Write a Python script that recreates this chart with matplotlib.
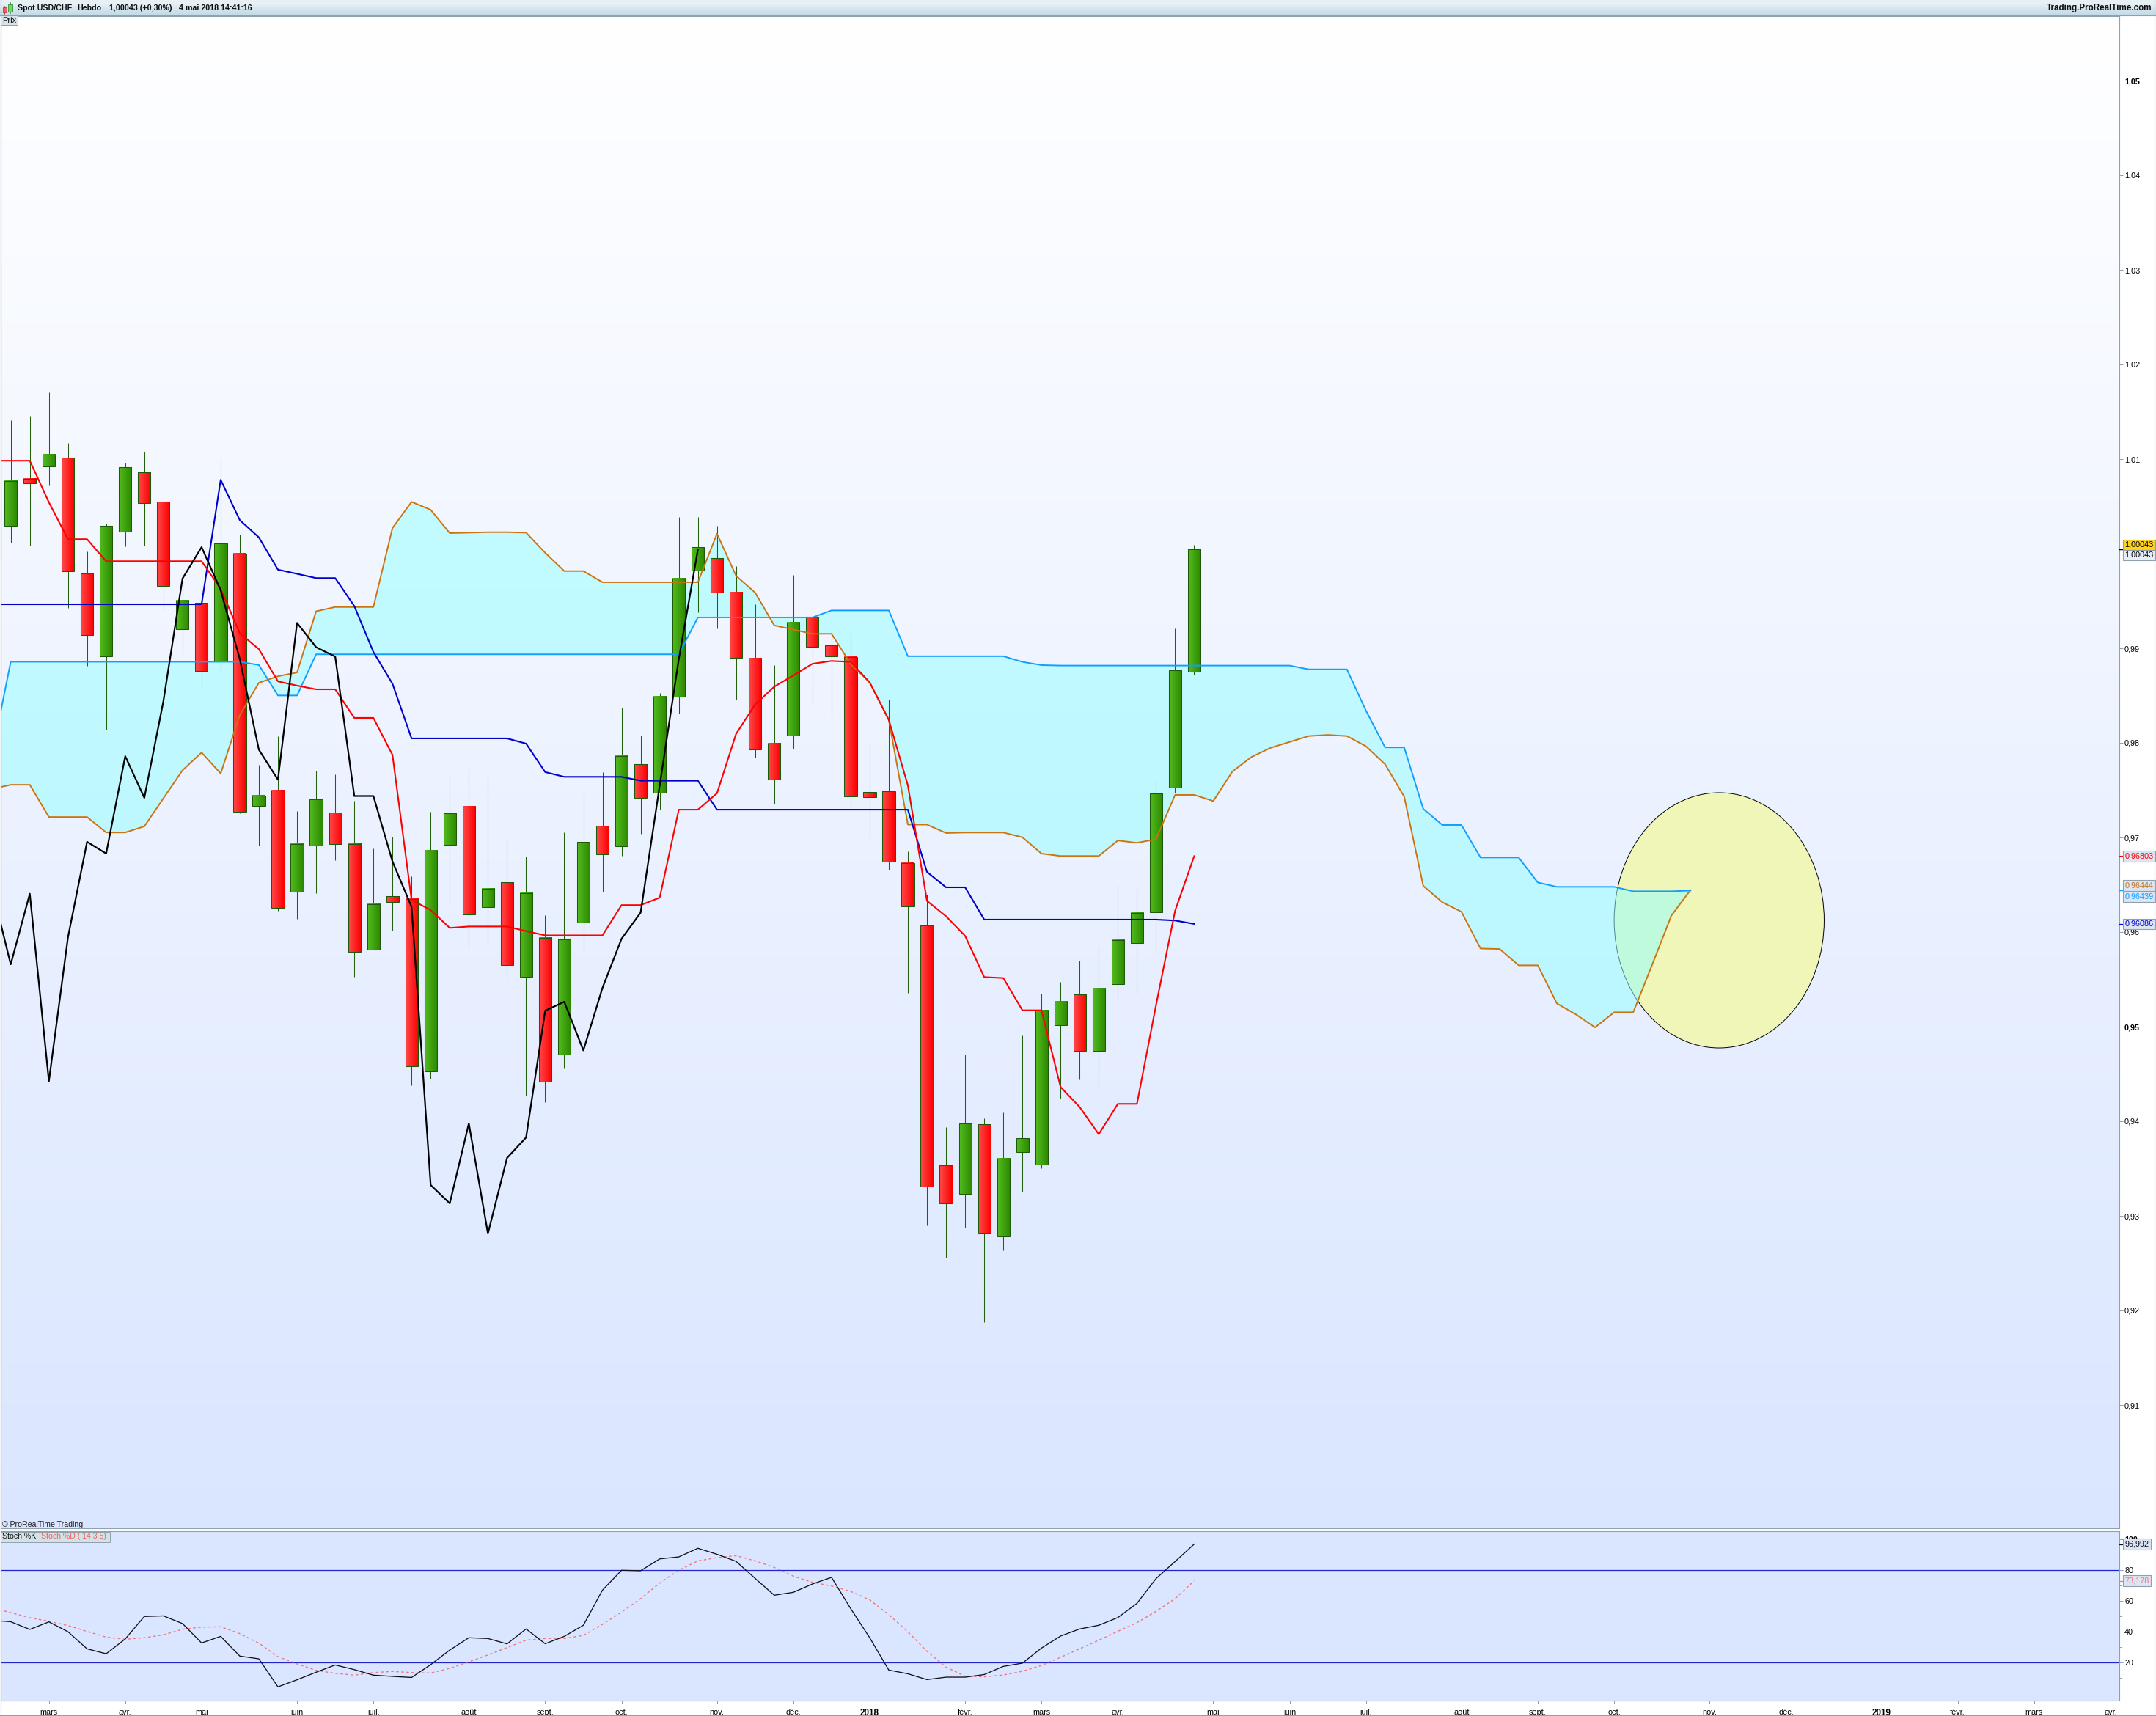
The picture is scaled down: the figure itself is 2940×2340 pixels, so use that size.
import matplotlib
matplotlib.use('Agg')
import matplotlib.pyplot as plt
from matplotlib.colors import LinearSegmentedColormap
from matplotlib.patches import Ellipse, Rectangle
from matplotlib.transforms import blended_transform_factory
import numpy as np

plt.rcParams['font.family'] = ['Liberation Sans', 'DejaVu Sans']

# weekly candles, index 0 is the first bar on the left
opens = [1.00291, 1.00790, 1.00919, 1.01013, 0.99787, 0.98912, 1.00232, 1.00860, 1.00548, 0.99198,
         0.99480, 0.98862, 0.99999, 0.97330, 0.97498, 0.96425, 0.96914, 0.97265, 0.96929, 0.95812,
         0.96380, 0.96351, 0.94526, 0.96919, 0.97325, 0.96262, 0.96529, 0.95525, 0.95940, 0.94709,
         0.96104, 0.97122, 0.96904, 0.97773, 0.97472, 0.98485, 0.99825, 0.99954, 0.99588, 0.98891,
         0.97991, 0.98075, 0.99331, 0.99029, 0.98906, 0.97481, 0.97487, 0.96731, 0.96071, 0.93536,
         0.93229, 0.93968, 0.92780, 0.93678, 0.93542, 0.95014, 0.95344, 0.94741, 0.95446, 0.95884,
         0.96208, 0.97527, 0.98749]
closes = [1.00766, 1.00741, 1.01048, 0.99812, 0.99139, 1.00291, 1.00914, 1.00533, 0.99658, 0.99505,
          0.98763, 1.00108, 0.97270, 0.97443, 0.96252, 0.96929, 0.97404, 0.96934, 0.95787, 0.96296,
          0.96321, 0.94581, 0.96860, 0.97255, 0.96183, 0.96459, 0.95654, 0.96410, 0.94418, 0.95921,
          0.96954, 0.96825, 0.97859, 0.97417, 0.98490, 0.99736, 1.00067, 0.99593, 0.98896, 0.97927,
          0.97610, 0.99271, 0.99014, 0.98911, 0.97432, 0.97430, 0.96748, 0.96270, 0.93308, 0.93132,
          0.93979, 0.92814, 0.93604, 0.93820, 0.95173, 0.95264, 0.94741, 0.95400, 0.95912, 0.96202,
          0.97464, 0.98766, 1.00043]
highs = [1.01413, 1.01458, 1.01705, 1.01171, 1.00024, 1.00316, 1.00963, 1.01077, 1.00568, 0.99802,
         0.99653, 1.00998, 1.00202, 0.97770, 0.98071, 0.97280, 0.97705, 0.97666, 0.97389, 0.96885,
         0.97008, 0.96588, 0.97270, 0.97641, 0.97730, 0.97661, 0.96984, 0.96801, 0.96178, 0.97053,
         0.97483, 0.97690, 0.98373, 0.98075, 0.98525, 1.00384, 1.00384, 1.00295, 0.99870, 0.99464,
         0.98822, 0.99776, 0.99355, 0.99178, 0.99153, 0.97976, 0.98459, 0.96850, 0.96395, 0.93939,
         0.94707, 0.94030, 0.94093, 0.94906, 0.95349, 0.95474, 0.95696, 0.95838, 0.96498, 0.96464,
         0.97595, 0.99209, 1.00091]
lows = [1.00113, 1.00088, 1.00721, 0.99426, 0.98813, 0.98136, 1.00074, 1.00083, 0.99401, 0.98936,
        0.98585, 0.98734, 0.97255, 0.96914, 0.96222, 0.96138, 0.96410, 0.96756, 0.95525, 0.95812,
        0.96019, 0.94383, 0.94452, 0.96306, 0.95837, 0.95866, 0.95500, 0.94274, 0.94205, 0.94556,
        0.95802, 0.96425, 0.96806, 0.97042, 0.97294, 0.98307, 0.99380, 0.99212, 0.98461, 0.97848,
        0.97353, 0.97937, 0.98401, 0.98283, 0.97338, 0.96998, 0.96657, 0.95355, 0.92899, 0.92558,
        0.92876, 0.91876, 0.92632, 0.93252, 0.93507, 0.94241, 0.94445, 0.94332, 0.95270, 0.95349,
        0.95776, 0.97470, 0.98721]

# ichimoku lines, first value sits one week before candle 0
tenkan = [1.00983, 1.00983, 1.00983, 1.00543, 1.00153, 1.00153, 0.99920, 0.99920, 0.99920, 0.99920,
          0.99920, 0.99920, 0.99629, 0.99159, 0.98991, 0.98650, 0.98605, 0.98566, 0.98566, 0.98264,
          0.98264, 0.97873, 0.96341, 0.96232, 0.96044, 0.96059, 0.96059, 0.96059, 0.96010, 0.95965,
          0.95965, 0.95965, 0.95965, 0.96285, 0.96285, 0.96364, 0.97294, 0.97294, 0.97467, 0.98095,
          0.98406, 0.98594, 0.98713, 0.98836, 0.98866, 0.98856, 0.98639, 0.98243, 0.97551, 0.96330,
          0.96167, 0.95959, 0.95524, 0.95514, 0.95173, 0.95173, 0.94362, 0.94150, 0.93863, 0.94184,
          0.94184, 0.95227, 0.96226, 0.96803]
kijun = [0.99465, 0.99465, 0.99465, 0.99465, 0.99465, 0.99465, 0.99465, 0.99465, 0.99465, 0.99465,
         0.99465, 0.99465, 1.00781, 1.00355, 1.00172, 0.99831, 0.99787, 0.99742, 0.99742, 0.99446,
         0.98961, 0.98625, 0.98047, 0.98047, 0.98047, 0.98047, 0.98047, 0.98047, 0.97992, 0.97691,
         0.97641, 0.97641, 0.97641, 0.97641, 0.97600, 0.97600, 0.97600, 0.97600, 0.97294, 0.97294,
         0.97294, 0.97294, 0.97294, 0.97294, 0.97294, 0.97294, 0.97294, 0.97294, 0.97294, 0.96636,
         0.96473, 0.96473, 0.96132, 0.96132, 0.96132, 0.96132, 0.96132, 0.96132, 0.96132, 0.96132,
         0.96132, 0.96132, 0.96122, 0.96086]
chikou = [0.96479, 0.95659, 0.96405, 0.94423, 0.95945, 0.96954, 0.96830, 0.97859, 0.97419, 0.98442,
          0.99737, 1.00069, 0.99614, 0.98887, 0.97928, 0.97611, 0.99268, 0.99011, 0.98912, 0.97438,
          0.97438, 0.96746, 0.96267, 0.93326, 0.93132, 0.93977, 0.92814, 0.93612, 0.93829, 0.95169,
          0.95263, 0.94749, 0.95410, 0.95929, 0.96206, 0.97551, 0.98886, 1.00043]
senkou_a = [0.97512, 0.97557, 0.97557, 0.97216, 0.97216, 0.97216, 0.97053, 0.97053, 0.97117, 0.97414,
            0.97710, 0.97898, 0.97676, 0.98294, 0.98635, 0.98704, 0.98744, 0.99391, 0.99436, 0.99436,
            0.99436, 1.00271, 1.00548, 1.00464, 1.00217, 1.00222, 1.00227, 1.00227, 1.00222, 1.00009,
            0.99816, 0.99816, 0.99698, 0.99698, 0.99698, 0.99698, 0.99698, 0.99698, 1.00211, 0.99766,
            0.99588, 0.99242, 0.99197, 0.99153, 0.99153, 0.98836, 0.98639, 0.98243, 0.97136, 0.97136,
            0.97047, 0.97052, 0.97052, 0.97052, 0.97002, 0.96829, 0.96804, 0.96804, 0.96804, 0.96968,
            0.96943, 0.96982, 0.97450, 0.97450, 0.97385, 0.97697, 0.97851, 0.97947, 0.98010, 0.98072,
            0.98084, 0.98072, 0.97964, 0.97774, 0.97432, 0.96488, 0.96315, 0.96214, 0.95826, 0.95821,
            0.95648, 0.95648, 0.95245, 0.95129, 0.94992, 0.95152, 0.95152, 0.95659, 0.96175, 0.96444]
senkou_b = [0.97852, 0.98857, 0.98857, 0.98857, 0.98857, 0.98857, 0.98857, 0.98857, 0.98857, 0.98857,
            0.98857, 0.98857, 0.98857, 0.98857, 0.98823, 0.98501, 0.98501, 0.98936, 0.98936, 0.98936,
            0.98936, 0.98936, 0.98936, 0.98936, 0.98936, 0.98936, 0.98936, 0.98936, 0.98936, 0.98936,
            0.98936, 0.98936, 0.98936, 0.98936, 0.98936, 0.98936, 0.98936, 0.99326, 0.99326, 0.99326,
            0.99326, 0.99326, 0.99326, 0.99326, 0.99400, 0.99400, 0.99400, 0.99400, 0.98916, 0.98916,
            0.98916, 0.98916, 0.98916, 0.98916, 0.98856, 0.98822, 0.98817, 0.98817, 0.98817, 0.98817,
            0.98817, 0.98817, 0.98817, 0.98817, 0.98817, 0.98817, 0.98817, 0.98817, 0.98817, 0.98777,
            0.98777, 0.98777, 0.98340, 0.97952, 0.97952, 0.97302, 0.97132, 0.97132, 0.96788, 0.96788,
            0.96788, 0.96524, 0.96478, 0.96478, 0.96478, 0.96478, 0.96431, 0.96431, 0.96431, 0.96439]

# stochastic, both start one week before candle 0
stoch_k = [47.5, 46.6, 41.6, 46.5, 40.1, 29.0, 25.8, 35.4, 50.0, 50.4,
           45.4, 32.8, 37.1, 24.3, 22.5, 4.3, 8.9, 13.8, 18.5, 15.5,
           11.9, 11.1, 10.4, 18.7, 28.2, 36.2, 35.7, 32.2, 41.9, 32.3,
           37.1, 44.3, 67.1, 80.0, 79.7, 87.4, 88.7, 94.3, 90.4, 85.8,
           74.7, 63.8, 65.7, 71.1, 75.4, 55.2, 36.2, 15.2, 12.8, 9.0,
           10.6, 10.6, 12.3, 17.6, 19.7, 29.5, 37.3, 41.9, 44.3, 49.3,
           58.5, 74.6, 85.7, 96.992]
stoch_d = [55.8, 52.5, 49.2, 46.9, 44.1, 40.3, 36.6, 35.2, 36.2, 38.1, 41.7,
           43.1, 43.3, 38.9, 32.7, 23.9, 19.2, 15.0, 13.1, 11.9, 13.6,
           14.3, 13.6, 13.3, 16.3, 20.6, 25.0, 29.8, 34.6, 35.7, 35.7,
           37.7, 44.9, 52.8, 61.6, 71.7, 80.1, 86.1, 88.2, 89.5, 86.1,
           81.9, 76.2, 72.2, 69.8, 66.3, 60.8, 51.2, 40.1, 27.4, 17.1,
           11.2, 10.8, 12.0, 14.4, 18.2, 23.5, 29.0, 34.6, 40.4, 46.0,
           53.3, 61.6, 73.178]

month_weeks = [2, 6, 10, 15, 19, 24, 28, 32, 37, 41, 45, 50, 54, 58, 63, 67, 71, 76, 80, 84, 89, 93, 98, 102, 106, 110]
month_labels = ['mars', 'avr.', 'mai', 'juin', 'juil.', 'août', 'sept.', 'oct.', 'nov.', 'déc.', '2018', 'févr.',
                'mars', 'avr.', 'mai', 'juin', 'juil.', 'août', 'sept.', 'oct.', 'nov.', 'déc.', '2019', 'févr.',
                'mars', 'avr.']
price_ticks = [0.91, 0.92, 0.93, 0.94, 0.95, 0.96, 0.97, 0.98, 0.99, 1.00, 1.01, 1.02, 1.03, 1.04, 1.05]
stoch_ticks = [20, 40, 60, 80, 100]
stoch_minor = [10, 30, 50, 70, 90]

W, H = 2940, 2340
PX0, PX1 = 1, 2890
BAR0, BAR_STEP = 14.6, 26.03
PANEL_BG = '#dae6ff'
BORDER = '#8fa0ae'
FS = 7.8


def px_axes(left, top, right, bottom):
  return fig.add_axes([left / W, 1 - bottom / H, (right - left) / W, (bottom - top) / H])


fig = plt.figure(figsize=(W / 100, H / 100), dpi=100, facecolor='white')

# main price panel
ax = px_axes(PX0, 22, PX1, 2084)
xlim = ((PX0 - BAR0) / BAR_STEP, (PX1 - BAR0) / BAR_STEP)
ylim = (0.99 + (884 - 2084) / 12900, 0.99 + (884 - 22) / 12900)
bg = LinearSegmentedColormap.from_list('bg', ['#ffffff', PANEL_BG])
ax.imshow(np.linspace(0, 1, 256).reshape(-1, 1), cmap=bg, aspect='auto', extent=[0, 1, 0, 1],
          transform=ax.transAxes, zorder=0)

# yellow circle behind the end of the cloud
ax.add_patch(Ellipse((89.5, 0.96124), 11.0, 0.02698, facecolor='#f0f5b8', edgecolor='black', lw=0.7, zorder=1))

# cloud
xa = np.arange(-1, len(senkou_a) - 1)
ax.fill_between(xa, senkou_a, senkou_b, color='#97ffff', alpha=0.53, lw=0, zorder=2)

# candles
red_map = LinearSegmentedColormap.from_list('r', ['#ff4a4a', '#fb0000'])
green_map = LinearSegmentedColormap.from_list('g', ['#52bc1e', '#2c8800'])
body_grad = np.linspace(0, 1, 32).reshape(1, -1)
half = 0.33
for i in range(len(opens)):
  lo, hi = min(opens[i], closes[i]), max(opens[i], closes[i])
  ax.plot([i, i], [lows[i], highs[i]], color='#24600c', lw=0.75, zorder=3, solid_capstyle='butt')
  cmap = green_map if closes[i] >= opens[i] else red_map
  ax.imshow(body_grad, cmap=cmap, aspect='auto', extent=[i - half, i + half, lo, hi], zorder=4)
  ax.add_patch(Rectangle((i - half, lo), 2 * half, hi - lo, fill=False, edgecolor='#1e5a0a', lw=0.75, zorder=5))

# lines
xt = np.arange(-1, len(tenkan) - 1)
ax.plot(xa, senkou_a, color='#cc7410', lw=1.4, zorder=6)
ax.plot(xa, senkou_b, color='#109fff', lw=1.4, zorder=6)
ax.plot(xt, kijun, color='#0000c8', lw=1.5, zorder=7)
ax.plot(xt, tenkan, color='#ff0000', lw=1.5, zorder=7)
ax.plot(np.arange(-1, len(chikou) - 1), chikou, color='black', lw=1.6, zorder=8)

ax.set_xlim(xlim)
ax.set_ylim(ylim)
ax.set_xticks([])
ax.yaxis.tick_right()
ax.set_yticks(price_ticks)
# 1,00 sits under the last-price boxes in the reference, so its label stays empty
ax.set_yticklabels(['' if v == 1.00 else ('%.2f' % v).replace('.', ',') for v in price_ticks], fontsize=FS, color='black')
ax.tick_params(axis='y', length=3.6, width=0.7, color=BORDER, pad=1.5)
for v, lab in zip(price_ticks, ax.get_yticklabels()):
  if round(v * 100) % 5 == 0:
    lab.set_fontweight('bold')
for s in ax.spines.values():
  s.set_color(BORDER)
  s.set_linewidth(0.8)

# stochastic panel
ax2 = px_axes(PX0, 2088, PX1, 2319)
ax2.set_facecolor(PANEL_BG)
ax2.axhline(80, color='#2424cc', lw=0.9, zorder=1)
ax2.axhline(20, color='#2424cc', lw=0.9, zorder=1)
ax2.plot(np.arange(-1, len(stoch_k) - 1), stoch_k, color='#101018', lw=0.95, zorder=3)
ax2.plot(np.arange(-1, len(stoch_d) - 1), stoch_d, color='#f07878', lw=1.0, ls=(0, (2.5, 2.5)), zorder=2)
ax2.set_xlim(xlim)
ax2.set_ylim(80 - (2319 - 2141.3) / 2.1, 80 + (2141.3 - 2088) / 2.1)
ax2.set_xticks(month_weeks)
ax2.set_xticklabels(month_labels, fontsize=FS)
ax2.tick_params(axis='x', length=3.2, width=0.7, color=BORDER, pad=5)
for lab in ax2.get_xticklabels():
  if lab.get_text() in ('2018', '2019'):
    lab.set_fontweight('bold')
    lab.set_fontsize(FS + 0.6)
ax2.yaxis.tick_right()
ax2.set_yticks(stoch_ticks)
ax2.set_yticklabels([str(v) for v in stoch_ticks], fontsize=FS)
ax2.get_yticklabels()[-1].set_fontweight('bold')
ax2.set_yticks(stoch_minor, minor=True)
ax2.tick_params(axis='y', which='major', length=3.6, width=0.7, color=BORDER, pad=1.5)
ax2.tick_params(axis='y', which='minor', length=2.2, width=0.7, color=BORDER)
for s in ax2.spines.values():
  s.set_color(BORDER)
  s.set_linewidth(0.8)


def value_box(axis, value, text, color, dy, face):
  # coloured tick at the axis, boxed value just right of it
  tr = blended_transform_factory(axis.transAxes, axis.transData)
  axis.plot([1, 1 + 5 / (PX1 - PX0)], [value, value], color=color, lw=0.9, transform=tr, clip_on=False, zorder=20)
  axis.annotate(text, xy=(1, value), xycoords=tr, xytext=(7.5, dy), textcoords='offset pixels', fontsize=FS,
                color=color, va='center', ha='left', annotation_clip=False, zorder=30,
                bbox=dict(boxstyle='square,pad=0.22', fc=face, ec=BORDER, lw=0.8))


last_price = closes[-1]
value_box(ax, last_price, '1,00043', 'black', 6.5, '#ffd21e')
value_box(ax, last_price, '1,00043', 'black', -7.5, '#e8eef8')
value_box(ax, tenkan[-1], '0,96803', '#ff0000', 0, '#dce5f4')
value_box(ax, senkou_a[-1], '0,96444', '#cc7410', 6.5, '#dce5f4')
value_box(ax, senkou_b[-1], '0,96439', '#109fff', -8, '#dce5f4')
value_box(ax, kijun[-1], '0,96086', '#0000c8', 0, '#dce5f4')
value_box(ax2, stoch_k[-1], '96,992', '#101018', 0, '#dce5f4')
value_box(ax2, stoch_d[-1], '73,178', '#f07878', 0, '#dce5f4')

# window chrome, drawn in screen pixels
ov = fig.add_axes([0, 0, 1, 1], facecolor='none', zorder=50)
bar = LinearSegmentedColormap.from_list('bar', ['#f0f7fb', '#c4dbe6'])
ov.imshow(np.linspace(0, 1, 32).reshape(-1, 1), cmap=bar, aspect='auto', extent=[0, W, 20, 0], zorder=1)
ov.set_xlim(0, W)
ov.set_ylim(H, 0)
ov.axis('off')
ov.plot([0, W], [20.5, 20.5], color=BORDER, lw=0.8, zorder=2)
ov.plot([0, W], [0.5, 0.5], color=BORDER, lw=0.8, zorder=2)
ov.plot([W - 1.5, W - 1.5], [0, H], color=BORDER, lw=0.8, zorder=2)
ov.plot([0, W], [H - 1, H - 1], color=BORDER, lw=0.8, zorder=2)
ov.plot([1, 1], [0, H], color=BORDER, lw=0.8, zorder=2)
ov.add_patch(Rectangle((4, 10), 5, 7, fc='#f06060', ec='#a03030', lw=0.5, zorder=3))
ov.plot([6.5, 6.5], [8, 19], color='#a03030', lw=0.5, zorder=2)
ov.add_patch(Rectangle((11, 6), 6, 10, fc='#60e060', ec='#208020', lw=0.5, zorder=3))
ov.plot([14, 14], [3, 18], color='#208020', lw=0.5, zorder=2)
ov.text(24, 11, 'Spot USD/CHF', fontsize=7.7, fontweight='bold', va='center', color='#101010', zorder=4)
ov.text(105, 11, 'Hebdo', fontsize=7.7, fontweight='bold', va='center', color='#101010', zorder=4)
ov.text(149, 11, '1,00043 (+0,30%)', fontsize=7.7, fontweight='bold', va='center', color='#101010', zorder=4)
ov.text(244, 11, '4 mai 2018 14:41:16', fontsize=7.7, fontweight='bold', va='center', color='#101010', zorder=4)
ov.text(2935, 11, 'Trading.ProRealTime.com', fontsize=8.4, fontweight='bold', ha='right', va='center',
        color='#101010', zorder=4)
ov.add_patch(Rectangle((1, 21), 23, 13, fc='#d8e4ec', ec=BORDER, lw=0.7, zorder=3))
ov.text(3, 28, 'Prix', fontsize=8, va='center', color='#101010', zorder=4)
ov.text(3, 2079, '© ProRealTime Trading', fontsize=7.6, va='center', color='#202020', zorder=4)
ov.add_patch(Rectangle((1, 2089), 53, 13.5, fc='#d4e2e8', ec=BORDER, lw=0.7, zorder=3))
ov.add_patch(Rectangle((54, 2089), 96, 13.5, fc='#d4e2e8', ec=BORDER, lw=0.7, zorder=3))
ov.text(3, 2095.5, 'Stoch %K', fontsize=7.6, va='center', color='#101010', zorder=4)
ov.text(56, 2095.5, 'Stoch %D ( 14 3 5)', fontsize=7.6, va='center', color='#f06060', zorder=4)

fig.savefig('out.png', dpi=100, facecolor='white')
